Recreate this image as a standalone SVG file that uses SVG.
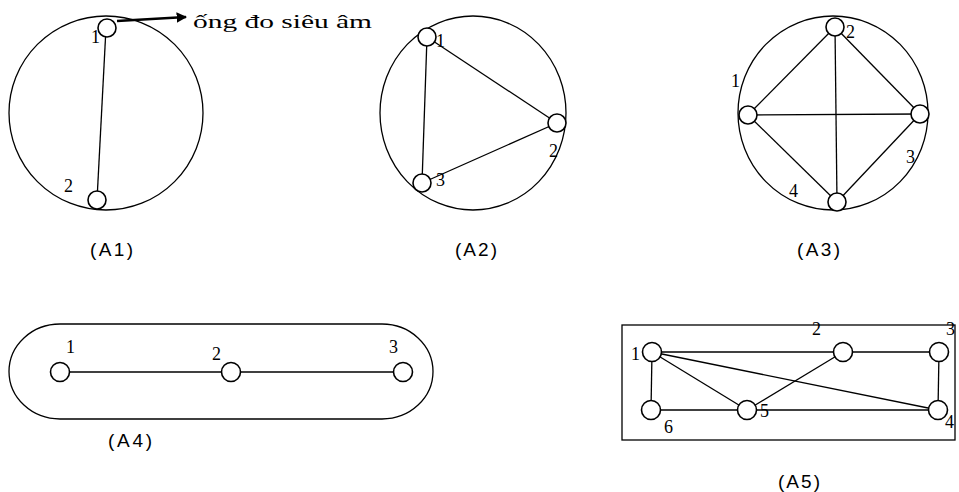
<svg xmlns="http://www.w3.org/2000/svg" width="959" height="492" viewBox="0 0 959 492">
<defs>
<marker id="ah" viewBox="0 0 10 10" refX="9" refY="5" markerWidth="4" markerHeight="4" orient="auto" markerUnits="strokeWidth">
<path d="M0,0 L10,5 L0,10 z" fill="#000"/>
</marker>
<style>
.outline{fill:none;stroke:#000;stroke-width:1.3}
.edge{stroke:#000;stroke-width:1.3;fill:none}
.node{fill:#fff;stroke:#000;stroke-width:1.6}
.num{font-family:"Liberation Serif","Times New Roman",serif;font-size:18px;fill:#000}
.cap{font-family:"Liberation Sans",Arial,sans-serif;font-size:19px;fill:#000}
</style>
</defs>
<rect width="959" height="492" fill="#fff"/>

<!-- outlines -->
<g id="outlines">
<ellipse class="outline" cx="106" cy="113" rx="97" ry="97"/>
<ellipse class="outline" cx="473" cy="113" rx="93" ry="97"/>
<ellipse class="outline" cx="833" cy="113" rx="95" ry="97"/>
<rect class="outline" x="9" y="324" width="424" height="95" rx="51" ry="47.5"/>
<rect class="outline" x="622" y="325" width="333" height="115"/>
</g>

<!-- connectors -->
<g id="connectors">
<line class="edge" x1="106" y1="28" x2="97" y2="200"/>
<line x1="117" y1="21" x2="186" y2="17" stroke="#000" stroke-width="2.6" marker-end="url(#ah)"/>

<line class="edge" x1="427" y1="37" x2="557" y2="123"/>
<line class="edge" x1="427" y1="37" x2="422" y2="183"/>
<line class="edge" x1="422" y1="183" x2="557" y2="123"/>

<line class="edge" x1="835" y1="27" x2="748" y2="115"/>
<line class="edge" x1="835" y1="27" x2="837" y2="202"/>
<line class="edge" x1="835" y1="27" x2="920" y2="114"/>
<line class="edge" x1="748" y1="115" x2="920" y2="114"/>
<line class="edge" x1="748" y1="115" x2="837" y2="202"/>
<line class="edge" x1="920" y1="114" x2="837" y2="202"/>

<line class="edge" x1="60" y1="372" x2="403" y2="372"/>

<line class="edge" x1="652" y1="352" x2="843" y2="352"/>
<line class="edge" x1="843" y1="352" x2="939" y2="352"/>
<line class="edge" x1="939" y1="352" x2="938" y2="410"/>
<line class="edge" x1="651" y1="410" x2="938" y2="410"/>
<line class="edge" x1="652" y1="352" x2="651" y2="410"/>
<line class="edge" x1="652" y1="352" x2="747" y2="410"/>
<line class="edge" x1="652" y1="352" x2="938" y2="410"/>
<line class="edge" x1="843" y1="352" x2="747" y2="410"/>
</g>

<!-- A1 -->
<g id="a1-n1"><circle class="node" cx="107" cy="28" r="9"/><text class="num" x="91" y="43">1</text></g>
<g id="a1-n2"><circle class="node" cx="97" cy="200" r="9"/><text class="num" x="64" y="192">2</text></g>
<g id="a1-label"><text x="193" y="28" font-family="'Liberation Serif','Times New Roman',serif" font-size="19" textLength="179" lengthAdjust="spacingAndGlyphs">ống đo siêu âm</text></g>
<g id="cap-a1"><text class="cap" x="90" y="256" textLength="43">(A1)</text></g>

<!-- A2 -->
<g id="a2-n1"><circle class="node" cx="427" cy="37" r="9"/><text class="num" x="436" y="47">1</text></g>
<g id="a2-n2"><circle class="node" cx="557" cy="123" r="9"/><text class="num" x="549" y="157">2</text></g>
<g id="a2-n3"><circle class="node" cx="422" cy="183" r="9"/><text class="num" x="436" y="186">3</text></g>
<g id="cap-a2"><text class="cap" x="455" y="256" textLength="42">(A2)</text></g>

<!-- A3 -->
<g id="a3-n1"><circle class="node" cx="748" cy="115" r="9"/><text class="num" x="731" y="87">1</text></g>
<g id="a3-n2"><circle class="node" cx="835" cy="27" r="9"/><text class="num" x="846" y="38">2</text></g>
<g id="a3-n3"><circle class="node" cx="920" cy="114" r="9"/><text class="num" x="906" y="163">3</text></g>
<g id="a3-n4"><circle class="node" cx="837" cy="202" r="9"/><text class="num" x="789" y="197">4</text></g>
<g id="cap-a3"><text class="cap" x="797" y="256" textLength="43">(A3)</text></g>

<!-- A4 -->
<g id="a4-n1"><circle class="node" cx="60" cy="372" r="9.5"/><text class="num" x="66" y="353">1</text></g>
<g id="a4-n2"><circle class="node" cx="231" cy="372" r="9.5"/><text class="num" x="212" y="360">2</text></g>
<g id="a4-n3"><circle class="node" cx="403" cy="372" r="9.5"/><text class="num" x="389" y="353">3</text></g>
<g id="cap-a4"><text class="cap" x="108" y="447" textLength="44">(A4)</text></g>

<!-- A5 -->
<g id="a5-n1"><circle class="node" cx="652" cy="352" r="9.5"/><text class="num" x="631" y="360">1</text></g>
<g id="a5-n2"><circle class="node" cx="843" cy="352" r="9.5"/><text class="num" x="812" y="335">2</text></g>
<g id="a5-n3"><circle class="node" cx="939" cy="352" r="9.5"/><text class="num" x="946" y="335">3</text></g>
<g id="a5-n4"><circle class="node" cx="938" cy="410" r="9.5"/><text class="num" x="945" y="428">4</text></g>
<g id="a5-n5"><circle class="node" cx="747" cy="410" r="9.5"/><text class="num" x="760" y="417">5</text></g>
<g id="a5-n6"><circle class="node" cx="651" cy="410" r="9.5"/><text class="num" x="664" y="433">6</text></g>
<g id="cap-a5"><text class="cap" x="778" y="488" textLength="42">(A5)</text></g>
</svg>
